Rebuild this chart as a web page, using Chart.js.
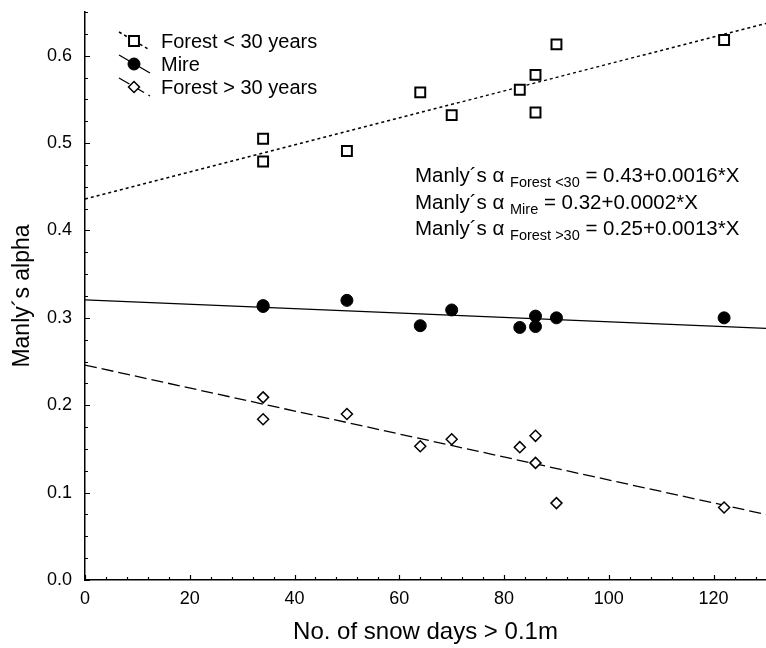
<!DOCTYPE html>
<html>
<head>
<meta charset="utf-8">
<script src="https://cdn.jsdelivr.net/npm/chart.js@4.4.1/dist/chart.umd.min.js"></script>
<style>
  body { margin: 0; background: #fff; overflow: hidden; }
  /* canvas is a bit wider than the page: chart.js keeps ~9px at the right,
     so the plot area still ends at the page edge like the reference */
  #wrap { width: 766px; height: 648px; overflow: hidden; }
  canvas { display: block; }
</style>
</head>
<body>
<div id="wrap"><canvas id="chart" width="775" height="648"></canvas></div>
<script>
// one entry per site
const snowDays = [34, 34, 50, 64, 70, 83, 86, 86, 90, 122];
const forestYoung = [0.505, 0.479, 0.491, 0.558, 0.532, 0.561, 0.578, 0.535, 0.613, 0.618];
const mire = [0.314, 0.313, 0.320, 0.291, 0.309, 0.289, 0.302, 0.290, 0.300, 0.300];
const forestOld = [0.209, 0.184, 0.190, 0.153, 0.161, 0.152, 0.165, 0.134, 0.088, 0.083];

// regression lines, value at each end of the x axis
const fitX = [0, 130];
const fitForestYoung = [0.436, 0.637];
const fitMire = [0.3205, 0.288];
const fitForestOld = [0.246, 0.075];

const seriesLabels = ['Forest < 30 years', 'Mire', 'Forest > 30 years'];
const eqSubs = ['Forest <30', 'Mire', 'Forest >30'];
const eqRhs = ['0.43+0.0016*X', '0.32+0.0002*X', '0.25+0.0013*X'];

const FONT = '"Liberation Sans", Arial, sans-serif';
Chart.defaults.font.family = FONT;
Chart.defaults.color = '#000';

const pts = ys => ys.map((y, i) => ({ x: snowDays[i], y: y }));
const line = ys => ys.map((y, i) => ({ x: fitX[i], y: y }));

// inward major + minor ticks
const tickMarks = {
  id: 'tickMarks',
  afterDatasetsDraw(chart) {
    const { ctx, chartArea: a, scales: { x, y } } = chart;
    ctx.save();
    ctx.strokeStyle = '#000';
    ctx.lineWidth = 1.2;
    ctx.beginPath();
    for (let v = 0; v <= 130; v += 4) {
      const px = Math.round(x.getPixelForValue(v)) + 0.5;
      const len = v % 20 === 0 ? 5 : 3;
      ctx.moveTo(px, a.bottom); ctx.lineTo(px, a.bottom - len);
    }
    for (let k = 0; k <= 26; k++) {
      const py = Math.round(y.getPixelForValue(k * 0.025)) + 0.5;
      const len = k % 4 === 0 ? 5 : 3;
      ctx.moveTo(a.left, py); ctx.lineTo(a.left + len, py);
    }
    ctx.stroke();
    ctx.restore();
  }
};

// legend with sloped line segments, plus the equations
const notes = {
  id: 'notes',
  afterDraw(chart) {
    const { ctx, scales: { x, y } } = chart;
    ctx.save();
    const rows = [41, 64, 87];
    const mx = 134;
    [0, 1, 2].forEach(i => {
      const ptDs = chart.data.datasets[i];
      const lnDs = chart.data.datasets[i + 3];
      const ry = rows[i];
      ctx.strokeStyle = '#000';
      ctx.lineWidth = lnDs.borderWidth;
      ctx.setLineDash(lnDs.borderDash || []);
      ctx.beginPath();
      ctx.moveTo(mx - 15, ry - 9);
      ctx.lineTo(mx + 16, ry + 9);
      ctx.stroke();
      ctx.setLineDash([]);
      ctx.fillStyle = ptDs.backgroundColor;
      ctx.lineWidth = ptDs.pointBorderWidth;
      Chart.helpers.drawPoint(ctx, {
        pointStyle: ptDs.pointStyle, radius: ptDs.pointRadius, borderWidth: ptDs.pointBorderWidth
      }, mx, ry);
      ctx.fillStyle = '#000';
      ctx.font = '20px ' + FONT;
      ctx.textBaseline = 'middle';
      ctx.fillText(ptDs.label, 161, ry + 1);
    });

    ctx.textBaseline = 'alphabetic';
    const x0 = x.getPixelForValue(63);
    const y0 = y.getPixelForValue(0.455);
    eqSubs.forEach((sub, i) => {
      const by = y0 + i * 26.5;
      let cx = x0;
      ctx.font = '20.5px ' + FONT;
      const head = 'Manly\u00b4s \u03b1 ';
      ctx.fillText(head, cx, by);
      cx += ctx.measureText(head).width;
      ctx.font = '14.5px ' + FONT;
      ctx.fillText(sub, cx, by + 5);
      cx += ctx.measureText(sub).width;
      ctx.font = '20.5px ' + FONT;
      ctx.fillText(' = ' + eqRhs[i], cx, by);
    });
    ctx.restore();
  }
};

new Chart(document.getElementById('chart'), {
  type: 'scatter',
  data: {
    datasets: [
      { label: seriesLabels[0], data: pts(forestYoung), pointStyle: 'rect', pointRadius: 7,
        pointBorderWidth: 2, borderColor: '#000', backgroundColor: '#fff', order: 1 },
      { label: seriesLabels[1], data: pts(mire), pointStyle: 'circle', pointRadius: 6,
        pointBorderWidth: 1, borderColor: '#000', backgroundColor: '#000', order: 1 },
      { label: seriesLabels[2], data: pts(forestOld), pointStyle: 'rectRot', pointRadius: 5.5,
        pointBorderWidth: 1.5, borderColor: '#000', backgroundColor: '#fff', order: 1 },
      { label: 'fit1', data: line(fitForestYoung), showLine: true, pointRadius: 0,
        borderColor: '#000', borderWidth: 1.5, borderDash: [3, 3], order: 2 },
      { label: 'fit2', data: line(fitMire), showLine: true, pointRadius: 0,
        borderColor: '#000', borderWidth: 1.3, order: 2 },
      { label: 'fit3', data: line(fitForestOld), showLine: true, pointRadius: 0,
        borderColor: '#000', borderWidth: 1.3, borderDash: [12, 5], order: 2 }
    ]
  },
  options: {
    responsive: false,
    animation: false,
    layout: { padding: { top: 12, right: 0, left: 0, bottom: 0 } },
    plugins: { legend: { display: false }, tooltip: { enabled: false } },
    scales: {
      x: {
        min: 0, max: 130,
        afterFit: s => { s.height = 68; s.paddingLeft = 0; s.paddingRight = 0; },
        grid: { display: false, drawTicks: false },
        border: { display: true, color: '#000', width: 1.5 },
        ticks: { stepSize: 20, includeBounds: false, padding: 8, font: { size: 18 } },
        title: { display: true, text: 'No. of snow days > 0.1m', font: { size: 24 }, padding: { top: 0, bottom: 1 } }
      },
      y: {
        min: 0, max: 0.65,
        afterFit: s => { s.width = 85; s.paddingTop = 0; s.paddingBottom = 0; },
        grid: { display: false, drawTicks: false },
        border: { display: true, color: '#000', width: 1.5 },
        ticks: { stepSize: 0.1, includeBounds: false, padding: 13, font: { size: 18 },
          callback: v => v.toFixed(1) },
        title: { display: true, text: 'Manly\u00b4s alpha', font: { size: 23 }, padding: { top: 9, bottom: 0 } }
      }
    }
  },
  plugins: [tickMarks, notes]
});
</script>
</body>
</html>
